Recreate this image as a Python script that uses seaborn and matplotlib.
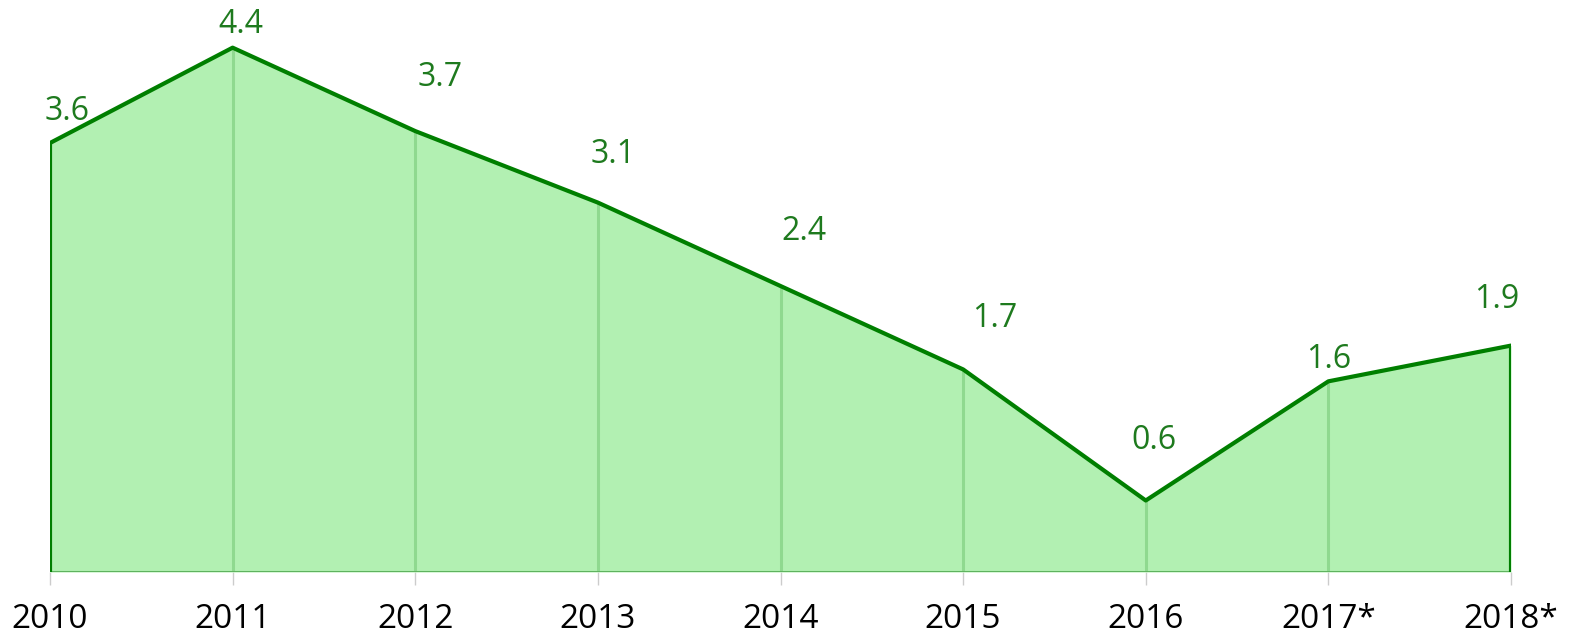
import matplotlib
matplotlib.use("Agg")
import matplotlib.pyplot as plt
import seaborn as sns
import pandas as pd

years = ["2010", "2011", "2012", "2013", "2014", "2015", "2016", "2017*", "2018*"]
values = [3.6, 4.4, 3.7, 3.1, 2.4, 1.7, 0.6, 1.6, 1.9]

# label offsets in points (dx, dy) so the numbers sit clear of the line
label_offsets = [(12, 11), (6, 5), (18, 27), (11, 23), (17, 27), (23, 25), (6, 31), (0, 4), (-10, 21)]

sns.set_theme(style="white")
plt.rcParams["font.family"] = ["Open Sans", "DejaVu Sans"]

df = pd.DataFrame({"pos": range(len(years)), "year": years, "value": values})

fig = plt.figure(figsize=(15.78, 6.38), dpi=100)
ax = fig.add_axes([50 / 1578, 66 / 638, 1461 / 1578, 572 / 638])

fill_col = "#b2f0b2"
line_col = "#007f00"

ax.fill_between(df["pos"], 0, df["value"], color=fill_col, linewidth=0, zorder=1)
ax.vlines(df["pos"], 0, df["value"], color="#8fd98f", linewidth=2.2, zorder=2)
sns.lineplot(data=df, x="pos", y="value", color=line_col, linewidth=3, ax=ax, zorder=4)
# closing edges of the area
ax.vlines([df["pos"].iloc[0], df["pos"].iloc[-1]], 0, [df["value"].iloc[0], df["value"].iloc[-1]],
          color=line_col, linewidth=3, zorder=4)
ax.axhline(0, color="#5fb35f", linewidth=2.2, zorder=3)

for (x, v), (dx, dy) in zip(zip(df["pos"], df["value"]), label_offsets):
    ax.annotate(f"{v:.1f}", (x, v), xytext=(dx, dy), textcoords="offset points",
                ha="center", va="bottom", fontsize=23, color="#1e7a1e")

ax.set_xlim(0, len(years) - 1)
ax.set_ylim(0, 4.8)
ax.set_xticks(df["pos"])
ax.set_xticklabels(years, fontsize=24, color="black")
ax.set_yticks([])
ax.tick_params(axis="x", length=9, width=1, color="#cccccc", pad=13, bottom=True)
ax.set_xlabel("")
ax.set_ylabel("")
for s in ax.spines.values():
    s.set_visible(False)
ax.patch.set_alpha(0)

fig.savefig("out.png", dpi=100)
